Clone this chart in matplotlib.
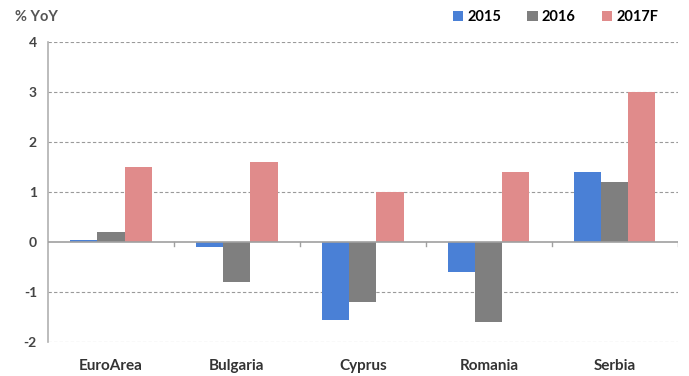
import matplotlib.pyplot as plt
import numpy as np

countries = ['EuroArea', 'Bulgaria', 'Cyprus', 'Romania', 'Serbia']
years = ['2015', '2016', '2017F']
v2015 = [0.03, -0.1, -1.55, -0.6, 1.4]
v2016 = [0.2, -0.8, -1.2, -1.6, 1.2]
v2017 = [1.5, 1.6, 1.0, 1.4, 3.0]
yticks = [-2, -1, 0, 1, 2, 3, 4]
colors = ['#4a80d6', '#7f7f7f', '#e08b8b']

plt.rcParams['font.family'] = ['Lato', 'DejaVu Sans']

fig = plt.figure(figsize=(6.89, 3.76), dpi=100)
ax = fig.add_axes([0.0697, 0.0904, 0.914, 0.798])

x = np.arange(len(countries))
w = 0.215
for i, (vals, lab, c) in enumerate(zip([v2015, v2016, v2017], years, colors)):
    ax.bar(x + (i - 1) * w, vals, w, color=c, label=lab, zorder=3)

ax.set_xlim(-0.5, len(countries) - 0.5)
ax.set_ylim(-2, 4)
ax.set_yticks(yticks)
ax.set_yticklabels([str(t) for t in yticks], fontweight='bold', fontsize=10, color='#444444')
for yv in yticks:
    if yv != 0:
        ax.axhline(yv, color='#9a9a9a', lw=0.8, ls=(0, (3, 2)), zorder=1)
ax.axhline(0, color='#a0a0a0', lw=1.2, zorder=4)

# small tick marks on the zero line between groups
for b in np.arange(0.5, len(countries), 1.0):
    ax.plot([b, b], [0, -0.08], color='#a0a0a0', lw=1, zorder=4)

for s in ['top', 'right', 'bottom']:
    ax.spines[s].set_visible(False)
ax.spines['left'].set_color('#b0b0b0')
ax.spines['left'].set_linewidth(1.2)

ax.set_xticks(x)
ax.set_xticklabels(countries, fontweight='bold', fontsize=11, color='#333333')
ax.tick_params(axis='x', length=0, pad=12)
ax.tick_params(axis='y', length=0, pad=8)

fig.text(0.022, 0.955, '% YoY', fontsize=10.5, fontweight='bold', color='#555555', va='center')
fig.legend(loc='center right', bbox_to_anchor=(0.975, 0.955), ncol=3, frameon=False,
           handlelength=0.7, handleheight=0.7, handletextpad=0.3,
           columnspacing=1.8, prop={'weight': 'bold', 'size': 10.5})

fig.savefig('out.png', dpi=100)
